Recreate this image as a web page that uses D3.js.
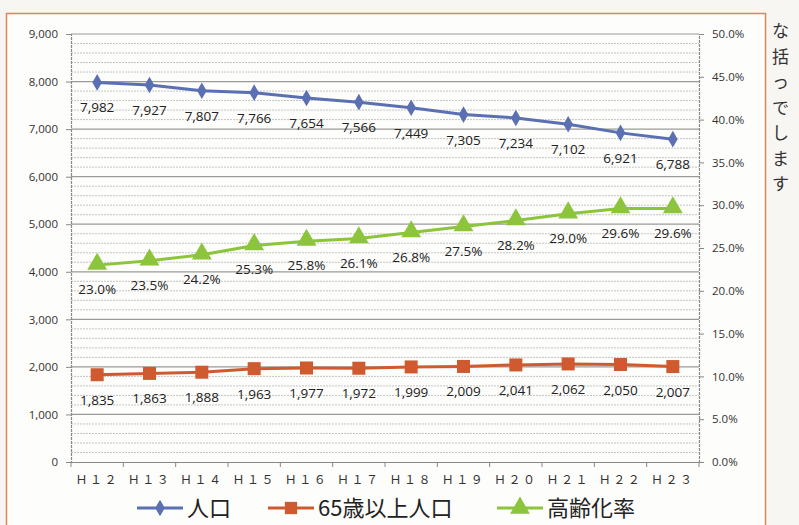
<!DOCTYPE html>
<html>
<head>
<meta charset="utf-8">
<script src="https://cdn.jsdelivr.net/npm/d3@7"></script>
<style>
  body { margin: 0; background: #f7f6f2; }
  svg { display: block; }
</style>
</head>
<body>
<svg id="chart" width="799" height="525"></svg>
<script>
const years = ["Ｈ１２","Ｈ１３","Ｈ１４","Ｈ１５","Ｈ１６","Ｈ１７","Ｈ１８","Ｈ１９","Ｈ２０","Ｈ２１","Ｈ２２","Ｈ２３"];
const population = [7982,7927,7807,7766,7654,7566,7449,7305,7234,7102,6921,6788];
const elderly = [1835,1863,1888,1963,1977,1972,1999,2009,2041,2062,2050,2007];
const agingRate = [23.0,23.5,24.2,25.3,25.8,26.1,26.8,27.5,28.2,29.0,29.6,29.6];
const leftTicks = [0,1000,2000,3000,4000,5000,6000,7000,8000,9000];
const rightTicks = [0,5,10,15,20,25,30,35,40,45,50];
const sideText = ["な","括","っ","で","し","ま","す"];

const svg = d3.select("#chart");
const blue = "#5b6fb3", orange = "#cf5a30", green = "#8cc43c";
const numFont = "'Open Sans', 'Noto Sans', sans-serif";
const jpFont = "'Noto Sans CJK JP', sans-serif";

// outer frame
svg.append("rect").attr("x", 6.5).attr("y", 13.5).attr("width", 759).attr("height", 530)
  .attr("fill", "#fdfdfb").attr("stroke", "#d9875a").attr("stroke-width", 1.5);

// text outside frame (cut off by the picture edge)
svg.selectAll(".side").data(sideText).enter().append("text")
  .attr("x", 772).attr("y", (d, i) => 37 + i * 25.5)
  .attr("font-family", jpFont).attr("font-size", 17).attr("fill", "#333")
  .text(d => d);

const x = d3.scaleBand().domain(years).range([71, 699]);
const y = d3.scaleLinear().domain([0, 9000]).range([462, 34]);
const y2 = d3.scaleLinear().domain([0, 50]).range([462, 34]);

// grid: minor every 200, major every 1000
const minor = d3.range(200, 9000, 200).filter(v => v % 1000 !== 0);
svg.selectAll(".minor").data(minor).enter().append("line")
  .attr("x1", 71).attr("x2", 699).attr("y1", d => y(d)).attr("y2", d => y(d))
  .attr("stroke", "#c4c4c4").attr("stroke-width", 1).attr("stroke-dasharray", "2,1");
svg.selectAll(".major").data(leftTicks.slice(1)).enter().append("line")
  .attr("x1", 71).attr("x2", 699).attr("y1", d => y(d)).attr("y2", d => y(d))
  .attr("stroke", "#9a9a9a").attr("stroke-width", 1.2);

// axes
const yAxis = svg.append("g").attr("transform", "translate(71,0)")
  .call(d3.axisLeft(y).tickValues(leftTicks).tickFormat(d3.format(",")).tickSize(5).tickPadding(8));
const y2Axis = svg.append("g").attr("transform", "translate(699,0)")
  .call(d3.axisRight(y2).tickValues(rightTicks).tickFormat(d => d.toFixed(1) + "%").tickSize(5).tickPadding(8));
const xAxis = svg.append("g").attr("transform", "translate(0,462)")
  .call(d3.axisBottom(x).tickSize(0).tickPadding(13));
// x category boundary ticks
svg.selectAll(".xt").data(years.concat([null])).enter().append("line")
  .attr("x1", (d, i) => 71 + i * x.step()).attr("x2", (d, i) => 71 + i * x.step())
  .attr("y1", 462).attr("y2", 467).attr("stroke", "#888");

[yAxis, y2Axis, xAxis].forEach(g => {
  g.select(".domain").attr("stroke", "#888").attr("stroke-width", 1.2);
  g.selectAll(".tick line").attr("stroke", "#888");
  g.selectAll("text").attr("fill", "#333").attr("font-family", numFont).attr("font-size", 11.5);
});
yAxis.select(".domain").attr("stroke-dasharray", "3,1");
y2Axis.select(".domain").attr("stroke-dasharray", "3,1");
xAxis.selectAll("text").attr("font-family", jpFont).attr("font-size", 12).attr("letter-spacing", "2.5px");

const cx = d => x(d) + x.bandwidth() / 2;

// lines
function drawLine(vals, scale, color) {
  svg.append("path").datum(vals)
    .attr("d", d3.line().x((d, i) => cx(years[i])).y(d => scale(d)))
    .attr("fill", "none").attr("stroke", color).attr("stroke-width", 3);
}
drawLine(population, y, blue);
drawLine(elderly, y, orange);
drawLine(agingRate, y2, green);

// markers
svg.selectAll(".pop").data(population).enter().append("path")
  .attr("transform", (d, i) => `translate(${cx(years[i])},${y(d)})`)
  .attr("d", d3.symbol(d3.symbolDiamond, 80)).attr("fill", blue);
svg.selectAll(".eld").data(elderly).enter().append("rect")
  .attr("x", (d, i) => cx(years[i]) - 6.5).attr("y", d => y(d) - 6.5)
  .attr("width", 13).attr("height", 13).attr("fill", orange);
svg.selectAll(".rate").data(agingRate).enter().append("path")
  .attr("transform", (d, i) => `translate(${cx(years[i])},${y2(d) - 1})`)
  .attr("d", d3.symbol(d3.symbolTriangle, 170)).attr("fill", green);

// data labels
function labels(vals, scale, fmt, dy) {
  svg.selectAll(null).data(vals).enter().append("text")
    .attr("x", (d, i) => cx(years[i])).attr("y", d => scale(d) + dy)
    .attr("text-anchor", "middle").attr("font-family", numFont).attr("font-size", 13.5)
    .attr("fill", "#222").text(fmt);
}
labels(population, y, d3.format(","), 30);
labels(elderly, y, d3.format(","), 30);
labels(agingRate, y2, d => d.toFixed(1) + "%", 29);

// legend
const legend = [
  { name: "人口", color: blue, x: 137 },
  { name: "65歳以上人口", color: orange, x: 268 },
  { name: "高齢化率", color: green, x: 497 }
];
const lg = svg.selectAll(".lg").data(legend).enter().append("g")
  .attr("transform", d => `translate(${d.x},508)`);
lg.append("line").attr("x1", 0).attr("x2", 46).attr("stroke", d => d.color).attr("stroke-width", 3);
lg.append("path").attr("transform", "translate(23,0)")
  .attr("d", (d, i) => d3.symbol([d3.symbolDiamond, d3.symbolSquare, d3.symbolTriangle][i], [80, 150, 170][i])())
  .attr("fill", d => d.color);
lg.append("text").attr("x", 50).attr("y", 8).attr("font-family", jpFont).attr("font-size", 22)
  .attr("fill", "#222").text(d => d.name);
</script>
</body>
</html>
